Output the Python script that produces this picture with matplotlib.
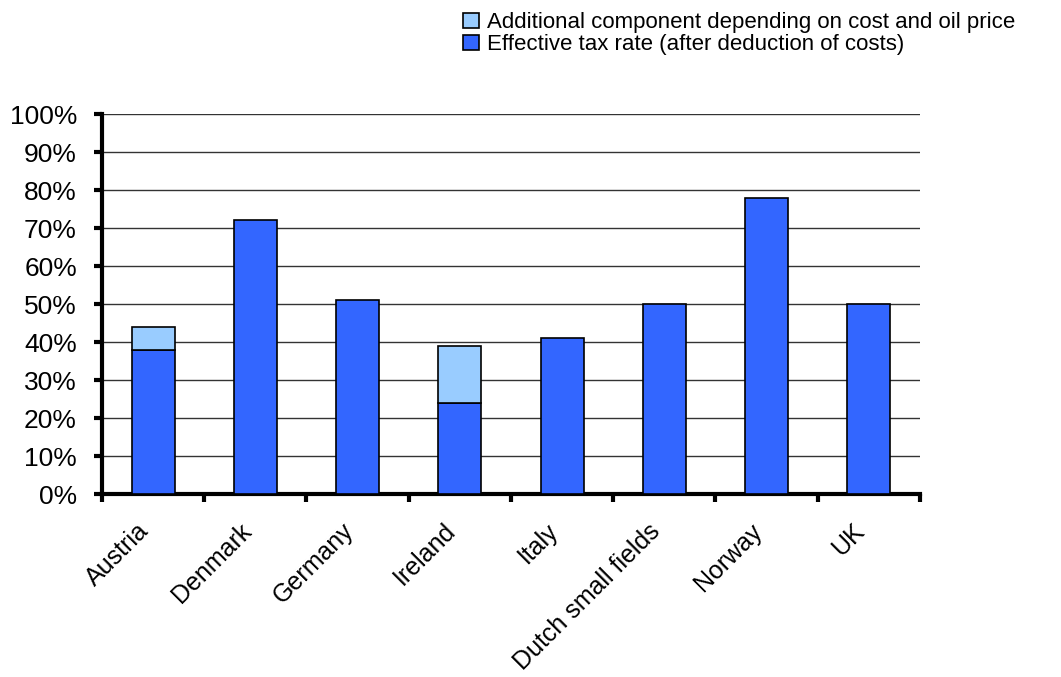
import matplotlib
matplotlib.use("Agg")
import matplotlib.pyplot as plt
import matplotlib.transforms as mtransforms
import numpy as np
from matplotlib.ticker import FixedLocator, PercentFormatter

plt.rcParams['font.family'] = ['Liberation Sans', 'DejaVu Sans']

categories = ["Austria", "Denmark", "Germany", "Ireland", "Italy",
              "Dutch small fields", "Norway", "UK"]
effective_rate = [38, 72, 51, 24, 41, 50, 78, 50]
additional = [6, 0, 0, 15, 0, 0, 0, 0]
series_names = ["Additional component depending on cost and oil price",
                "Effective tax rate (after deduction of costs)"]

fig = plt.figure(figsize=(10.61, 6.77), dpi=100)
ax = fig.add_axes([0.0961, 0.2703, 0.771, 0.5613])

x = np.arange(len(categories))
w = 0.42
b1 = ax.bar(x, effective_rate, w, color='#3366FF', edgecolor='black', linewidth=1.2,
            zorder=3, label=series_names[1])
add_x = [xi for xi, a in zip(x, additional) if a > 0]
add_v = [a for a in additional if a > 0]
add_b = [e for e, a in zip(effective_rate, additional) if a > 0]
b2 = ax.bar(add_x, add_v, w, bottom=add_b, color='#99CCFF', edgecolor='black',
            linewidth=1.2, zorder=3, label=series_names[0])

ax.set_xlim(-0.5, len(categories) - 0.5)
ax.set_ylim(0, 100)
ax.yaxis.set_major_locator(FixedLocator(np.arange(0, 101, 10)))
ax.yaxis.set_major_formatter(PercentFormatter(decimals=0))
ax.yaxis.grid(True, color='#333333', linewidth=1, zorder=0)
ax.set_axisbelow(True)

ax.set_xticks(np.arange(-0.5, len(categories) + 0.5, 1))
ax.set_xticklabels([])
ax.set_xticks(x, minor=True)
ax.set_xticklabels(categories, minor=True, rotation=45, ha='right', va='center',
                   rotation_mode='anchor', fontsize=18)
ax.tick_params(axis='x', which='minor', length=0, pad=24)
ax.tick_params(axis='x', which='major', direction='out', length=6, width=3)
ax.tick_params(axis='y', direction='out', length=6, width=3, labelsize=19, pad=12)
offset = mtransforms.ScaledTranslation(-8 / 100, 0, fig.dpi_scale_trans)
for lab in ax.get_xticklabels(minor=True):
    lab.set_transform(lab.get_transform() + offset)

for s in ['top', 'right']:
    ax.spines[s].set_visible(False)
ax.spines['left'].set_linewidth(3)
ax.spines['bottom'].set_linewidth(3)

leg = fig.legend(handles=[b2, b1], labels=series_names, loc='upper left',
                 bbox_to_anchor=(0.428, 0.995), frameon=False, fontsize=16,
                 handlelength=0.7, handleheight=0.7, handletextpad=0.4,
                 labelspacing=0.05, borderaxespad=0)

fig.savefig("out.png", dpi=100)
